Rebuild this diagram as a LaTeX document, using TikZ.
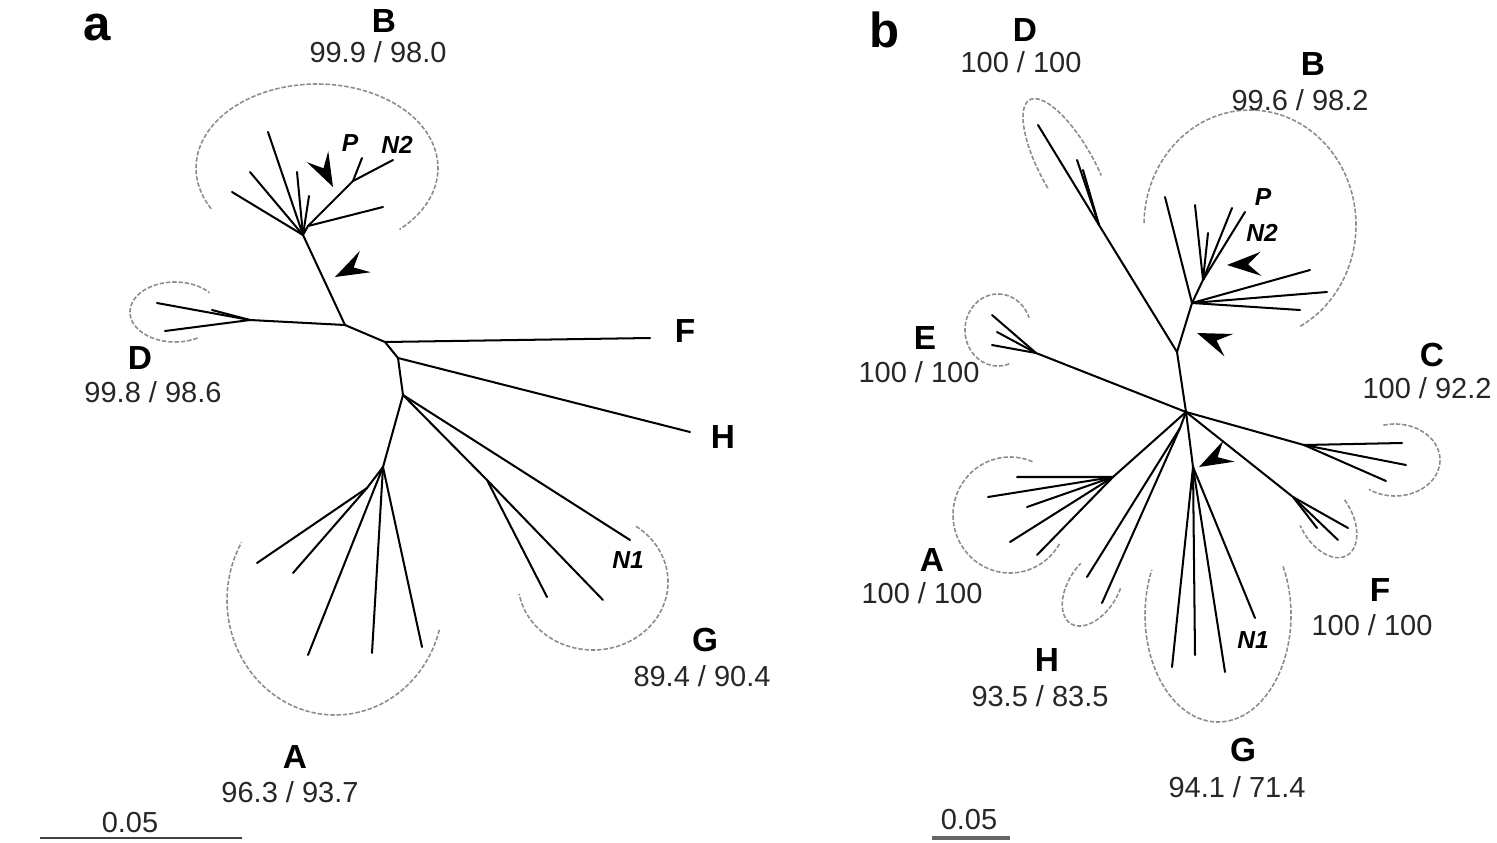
\documentclass[tikz,border=0pt]{standalone}
\usepackage{fontspec}
\setmainfont{Liberation Sans}
\newcommand\cladeloop[7]{%
  \draw[cladearc] plot[domain=#6:#7, samples=90, smooth]
    ({#1+#3*cos(\x)*cos(#5)-#4*sin(\x)*sin(#5)},{#2+#3*cos(\x)*sin(#5)+#4*sin(\x)*cos(#5)});}
\begin{document}
\begin{tikzpicture}[x=0.02cm,y=-0.02cm,
  branch/.style={line width=1.15pt, black, line cap=round, line join=round},
  cladearc/.style={gray!90, line width=0.9pt, dash pattern=on 2.5pt off 1.1pt},
  cl/.style={font=\fontsize{19}{21}\selectfont\bfseries, inner sep=0pt},
  num/.style={font=\fontsize{16.5}{18}\selectfont, text=black!85, inner sep=0pt},
  pl/.style={font=\fontsize{28}{30}\selectfont\bfseries, inner sep=0pt},
  iso/.style={font=\fontsize{14}{16}\selectfont\bfseries\itshape, inner sep=0pt},
  scalebar/.style={line width=1.3pt, black!75},
  arrowhd/.pic={\fill[black] (0,0) -- (-34,-12) -- (-21,0) -- (-34,12) -- cycle;}]
\useasboundingbox (0,0) rectangle (1497,842);

% ================= panel a =================
\coordinate (aB0) at (303,235);
\coordinate (aJ1) at (345,325);
\coordinate (aD0) at (250,320);
\coordinate (aJ2) at (385,342);
\coordinate (aJ3) at (398,358);
\coordinate (aJ4) at (403,395);
\coordinate (aA0) at (383,467);
\coordinate (aA1) at (367,488);
\coordinate (aG0) at (487,480);
\coordinate (aBs) at (308,226);
\coordinate (aBp) at (353,181);
\coordinate (aBt1) at (268,132);
\coordinate (aBt2) at (250,172);
\coordinate (aBt3) at (232,192);
\coordinate (aBt4) at (297,172);
\coordinate (aBt5) at (309,196);
\coordinate (aBtP) at (362,158);
\coordinate (aBtN) at (393,160);
\coordinate (aBt6) at (383,207);
\coordinate (aDt1) at (157,303);
\coordinate (aDt2) at (165,331);
\coordinate (aDt3) at (212,310);
\coordinate (aFt) at (650,338);
\coordinate (aHt) at (690,432);
\coordinate (aGtN) at (630,540);
\coordinate (aGt1) at (547,597);
\coordinate (aGt2) at (603,600);
\coordinate (aAt1) at (257,563);
\coordinate (aAt2) at (293,573);
\coordinate (aAt3) at (308,655);
\coordinate (aAt4) at (372,653);
\coordinate (aAt5) at (422,647);

\draw[branch] (aB0) -- (aJ1) -- (aJ2) -- (aJ3) -- (aJ4) -- (aA0);
\draw[branch] (aJ1) -- (aD0) -- (aDt1);
\draw[branch] (aD0) -- (aDt2);
\draw[branch] (aD0) -- (aDt3);
\draw[branch] (aB0) -- (aBt1);
\draw[branch] (aB0) -- (aBt2);
\draw[branch] (aB0) -- (aBt3);
\draw[branch] (aB0) -- (aBt4);
\draw[branch] (aB0) -- (aBt5);
\draw[branch] (aB0) -- (aBs) -- (aBp) -- (aBtN);
\draw[branch] (aBp) -- (aBtP);
\draw[branch] (aBs) -- (aBt6);
\draw[branch] (aJ2) -- (aFt);
\draw[branch] (aJ3) -- (aHt);
\draw[branch] (aJ4) -- (aGtN);
\draw[branch] (aJ4) -- (aG0) -- (aGt1);
\draw[branch] (aG0) -- (aGt2);
\draw[branch] (aA0) -- (aA1) -- (aAt1);
\draw[branch] (aA1) -- (aAt2);
\draw[branch] (aA0) -- (aAt3);
\draw[branch] (aA0) -- (aAt4);
\draw[branch] (aA0) -- (aAt5);

\cladeloop{317}{168}{121}{84}{0}{151}{407}
\cladeloop{175}{312}{45}{30}{0}{-300}{-40}
\cladeloop{593}{582}{75}{68}{0}{-55}{170}
\cladeloop{335}{600}{108}{115}{0}{15}{210}

\pic[rotate=-63] at (333,187) {arrowhd};
\pic[rotate=-153] at (335,277) {arrowhd};

\node[pl] (la) at (97,28) {a};
\node[cl] (laB) at (384,21) {B};
\node[num] (naB) at (378,52) {99.9 / 98.0};
\node[iso] (iaP) at (350,143) {P};
\node[iso] (iaN2) at (397,145) {N2};
\node[cl] (laD) at (140,358) {D};
\node[num] (naD) at (153,392) {99.8 / 98.6};
\node[cl] (laF) at (685,331) {F};
\node[cl] (laH) at (723,437) {H};
\node[iso] (iaN1) at (628,560) {N1};
\node[cl] (laG) at (705,640) {G};
\node[num] (naG) at (702,676) {89.4 / 90.4};
\node[cl] (laA) at (295,757) {A};
\node[num] (naA) at (290,792) {96.3 / 93.7};
\node[num] (sca) at (130,823) {0.05};
\coordinate (sa1) at (40,838);
\coordinate (sa2) at (242,838);
\draw[scalebar] (sa1) -- (sa2);

% ================= panel b =================
\coordinate (bC0) at (1186,412);
\coordinate (bDj) at (1177,352);
\coordinate (bB0) at (1192,303);
\coordinate (bBs) at (1203,280);
\coordinate (bDs) at (1099,225);
\coordinate (bE0) at (1036,353);
\coordinate (bCj) at (1304,445);
\coordinate (bFj) at (1293,497);
\coordinate (bGj) at (1193,467);
\coordinate (bHj) at (1180,428);
\coordinate (bAj) at (1113,477);
\coordinate (bDt) at (1038,125);
\coordinate (bDt1) at (1077,160);
\coordinate (bDt2) at (1083,170);
\coordinate (bBt1) at (1165,197);
\coordinate (bBt2) at (1195,205);
\coordinate (bBt3) at (1208,233);
\coordinate (bBt4) at (1232,208);
\coordinate (bBt5) at (1245,212);
\coordinate (bBt6) at (1310,270);
\coordinate (bBt7) at (1327,292);
\coordinate (bBt8) at (1300,310);
\coordinate (bEt1) at (992,315);
\coordinate (bEt2) at (997,332);
\coordinate (bEt3) at (992,345);
\coordinate (bCt1) at (1402,443);
\coordinate (bCt2) at (1406,465);
\coordinate (bCt3) at (1386,481);
\coordinate (bFt1) at (1338,540);
\coordinate (bFt2) at (1348,528);
\coordinate (bFt3) at (1317,528);
\coordinate (bGt1) at (1172,667);
\coordinate (bGt2) at (1195,655);
\coordinate (bGt3) at (1225,672);
\coordinate (bGtN) at (1255,618);
\coordinate (bHt1) at (1087,577);
\coordinate (bHt2) at (1102,603);
\coordinate (bAt1) at (1017,477);
\coordinate (bAt2) at (988,497);
\coordinate (bAt3) at (1027,507);
\coordinate (bAt4) at (1010,542);
\coordinate (bAt5) at (1037,555);

\draw[branch] (bC0) -- (bDj) -- (bB0) -- (bBs);
\draw[branch] (bDj) -- (bDs) -- (bDt);
\draw[branch] (bDs) -- (bDt1);
\draw[branch] (bDs) -- (bDt2);
\draw[branch] (bB0) -- (bBt1);
\draw[branch] (bBs) -- (bBt2);
\draw[branch] (bBs) -- (bBt3);
\draw[branch] (bBs) -- (bBt4);
\draw[branch] (bBs) -- (bBt5);
\draw[branch] (bB0) -- (bBt6);
\draw[branch] (bB0) -- (bBt7);
\draw[branch] (bB0) -- (bBt8);
\draw[branch] (bC0) -- (bE0) -- (bEt1);
\draw[branch] (bE0) -- (bEt2);
\draw[branch] (bE0) -- (bEt3);
\draw[branch] (bC0) -- (bCj) -- (bCt1);
\draw[branch] (bCj) -- (bCt2);
\draw[branch] (bCj) -- (bCt3);
\draw[branch] (bC0) -- (bFj) -- (bFt1);
\draw[branch] (bFj) -- (bFt2);
\draw[branch] (bFj) -- (bFt3);
\draw[branch] (bC0) -- (bGj) -- (bGt1);
\draw[branch] (bGj) -- (bGt2);
\draw[branch] (bGj) -- (bGt3);
\draw[branch] (bGj) -- (bGtN);
\draw[branch] (bC0) -- (bHj) -- (bHt1);
\draw[branch] (bHj) -- (bHt2);
\draw[branch] (bC0) -- (bAj) -- (bAt1);
\draw[branch] (bAj) -- (bAt2);
\draw[branch] (bAj) -- (bAt3);
\draw[branch] (bAj) -- (bAt4);
\draw[branch] (bAj) -- (bAt5);

\cladeloop{1068}{169}{79}{27}{241}{-95}{106}
\cladeloop{1250}{225}{106}{115}{0}{181}{422}
\cladeloop{998}{330}{33}{36}{0}{-290}{-20}
\cladeloop{1395}{460}{45}{36}{0}{-105}{125}
\cladeloop{1326}{519}{42}{26}{60}{-100}{100}
\cladeloop{1218}{615}{73}{107}{0}{-27}{205}
\cladeloop{1093}{588}{42}{25}{122}{-110}{110}
\cladeloop{1010}{515}{57}{58}{0}{-330}{-65}

\pic[rotate=-178] at (1227,265) {arrowhd};
\pic[rotate=-201] at (1197,333) {arrowhd};
\pic[rotate=-152] at (1199,467) {arrowhd};

\node[pl] (lb) at (885,30) {b};
\node[cl] (lbD) at (1025,30) {D};
\node[num] (nbD) at (1021,62) {100 / 100};
\node[cl] (lbB) at (1313,64) {B};
\node[num] (nbB) at (1300,100) {99.6 / 98.2};
\node[iso] (ibP) at (1263,197) {P};
\node[iso] (ibN2) at (1262,233) {N2};
\node[cl] (lbE) at (925,338) {E};
\node[num] (nbE) at (919,372) {100 / 100};
\node[cl] (lbC) at (1432,355) {C};
\node[num] (nbC) at (1427,388) {100 / 92.2};
\node[cl] (lbA) at (932,560) {A};
\node[num] (nbA) at (922,593) {100 / 100};
\node[cl] (lbF) at (1380,590) {F};
\node[num] (nbF) at (1372,625) {100 / 100};
\node[cl] (lbH) at (1047,660) {H};
\node[num] (nbH) at (1040,696) {93.5 / 83.5};
\node[iso] (ibN1) at (1253,640) {N1};
\node[cl] (lbG) at (1243,750) {G};
\node[num] (nbG) at (1237,787) {94.1 / 71.4};
\node[num] (scb) at (969,820) {0.05};
\coordinate (sb1) at (932,838);
\coordinate (sb2) at (1010,838);
\draw[scalebar, line width=2pt, black!60] (sb1) -- (sb2);
\end{tikzpicture}
\end{document}
